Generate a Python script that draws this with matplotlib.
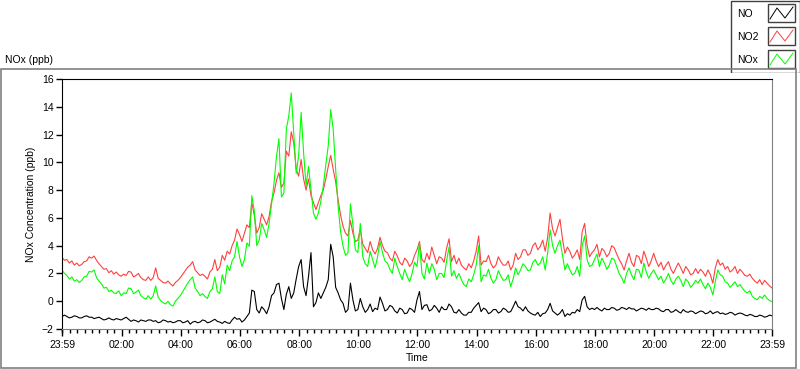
import numpy as np
import matplotlib
matplotlib.use('Agg')
from matplotlib import pyplot as plt
from matplotlib.patches import Rectangle
from matplotlib.lines import Line2D

plt.rcParams['font.family'] = ['Liberation Sans', 'DejaVu Sans']
plt.rcParams['font.size'] = 7.5

# minutes after 23:59, one reading every 5 min (12 per row = 1 hour)
minutes = np.arange(0, 1441, 5)

no = [-1.1, -1.0, -1.1, -1.2, -1.15, -1.05, -1.1, -1.2, -1.2, -1.1, -1.05, -1.15,
      -1.15, -1.25, -1.2, -1.15, -1.25, -1.35, -1.3, -1.2, -1.3, -1.35, -1.25, -1.3,
      -1.35, -1.25, -1.15, -1.3, -1.45, -1.35, -1.4, -1.5, -1.35, -1.4, -1.45, -1.35,
      -1.35, -1.45, -1.4, -1.55, -1.5, -1.35, -1.4, -1.5, -1.45, -1.55, -1.5, -1.4,
      -1.4, -1.55, -1.5, -1.4, -1.65, -1.5, -1.45, -1.55, -1.5, -1.35, -1.4, -1.55,
      -1.5, -1.4, -1.3, -1.45, -1.5, -1.6, -1.45, -1.55, -1.6, -1.35, -1.15, -1.3,
      -1.25, -1.5, -1.35, -1.1, -0.85, 0.8, 0.7, -0.6, -0.85, -0.4, -0.6, -0.9,
      -0.4, 0.4, 0.6, 1.2, 1.3, 0.2, -0.6, 0.5, 1.05, 0.2, 0.6, 1.6,
      2.5, 3.0, 1.05, 0.4, 1.8, 3.5, -0.4, -0.1, 0.6, 0.2, 0.6, 1.0,
      1.55, 4.1, 3.2, 1.0, 0.6, 0.1, -0.15, -0.8, -0.6, 1.3, 0.1, -0.7,
      -0.6, 0.2, -0.4, -0.8, -0.6, -0.2, -0.75, -0.5, -0.6, 0.3, -0.15, -0.7,
      -0.6, -0.3, -0.4, -0.7, -0.85, -0.5, -0.6, -0.9, -0.85, -0.5, -0.6, -0.8,
      0.1, 0.7, -0.6, -0.3, -0.25, -0.7, -0.6, -0.3, -0.5, -0.8, -0.4, -0.6,
      -0.6, -0.2, -0.4, -0.8, -0.85, -0.6, -0.85, -1.0, -1.0, -0.8, -0.8, -0.5,
      -0.3, -0.1, -0.75, -0.5, -0.6, -0.9, -0.8, -0.6, -0.6, -0.85, -0.75, -0.5,
      -0.6, -0.8, -0.75, -0.4, 0.0, -0.4, -0.5, -0.7, -0.4, -0.7, -0.85, -0.95,
      -1.0, -0.8, -1.1, -0.9, -0.85, -0.6, -0.15, -0.7, -0.85, -1.0, -0.85, -0.6,
      -1.1, -0.9, -1.0, -0.8, -0.85, -0.6, -0.75, 0.1, 0.35, -0.4, -0.6, -0.5,
      -0.6, -0.45, -0.6, -0.7, -0.5, -0.6, -0.6, -0.45, -0.5, -0.65, -0.6, -0.45,
      -0.5, -0.6, -0.45, -0.55, -0.55, -0.7, -0.6, -0.5, -0.55, -0.65, -0.5, -0.6,
      -0.6, -0.5, -0.55, -0.7, -0.75, -0.6, -0.6, -0.8, -0.75, -0.6, -0.75, -0.85,
      -0.6, -0.75, -0.8, -0.7, -0.75, -0.9, -0.8, -0.7, -0.75, -0.9, -0.85, -0.7,
      -0.9, -0.8, -0.75, -0.9, -0.85, -0.95, -0.9, -0.8, -0.85, -1.0, -0.9, -0.85,
      -0.9, -1.0, -1.05, -0.95, -1.0, -1.1, -1.1, -1.0, -1.05, -1.15, -1.1, -1.0,
      -1.05]

no2 = [3.15, 2.95, 3.0, 2.75, 2.9, 2.6, 2.75, 2.55, 2.65, 2.85, 2.9, 3.2,
       3.1, 3.25, 2.95, 2.7, 2.5, 2.3, 2.35, 2.05, 2.2, 1.95, 2.1, 1.9,
       1.8, 1.95, 1.85, 2.15, 2.1, 1.75, 1.85, 2.0, 1.7, 1.55, 1.5, 1.75,
       1.5, 1.7, 2.4, 1.65, 1.5, 1.35, 1.3, 1.45, 1.25, 1.1, 1.35, 1.5,
       1.7, 1.95, 2.2, 2.45, 2.6, 2.85, 2.25, 2.05, 1.85, 1.95, 1.8, 1.6,
       2.1, 2.3, 3.0, 2.2, 2.45, 3.3, 2.95, 3.6, 3.4, 4.0, 4.4, 5.2,
       4.8, 4.3, 4.9, 5.5, 5.3, 7.1, 6.2, 4.9, 5.3, 6.3, 5.9, 5.5,
       6.1, 7.2, 7.8, 8.7, 9.25, 8.2, 8.5, 10.8, 10.45, 12.2, 11.4, 9.5,
       9.0, 10.2, 8.8, 8.0, 8.8, 7.6, 7.1, 6.6, 7.1, 7.6, 8.0, 8.8,
       9.7, 10.5, 9.5, 8.6, 7.3, 6.2, 5.4, 4.9, 4.7, 5.8, 4.9, 4.3,
       4.4, 5.2, 4.1, 3.8, 3.5, 4.3, 3.7, 3.4, 3.8, 4.6, 4.0, 3.6,
       3.5, 3.1, 2.9, 3.6, 3.25, 2.8, 2.6, 3.1, 2.9, 2.5, 2.75, 3.3,
       3.7, 4.3, 3.0, 2.8, 3.45, 3.0, 3.9, 3.3, 2.7, 3.2, 3.1, 2.8,
       3.8, 4.5, 2.85, 3.3, 2.7, 3.1, 2.6, 2.4, 2.25, 2.7, 2.4, 2.9,
       3.6, 4.7, 2.6, 2.9, 2.85, 3.3, 2.7, 2.4, 2.6, 3.2, 2.85, 2.6,
       2.6, 2.9, 2.25, 2.6, 3.45, 3.0, 3.2, 3.7, 3.7, 3.3, 3.45, 4.0,
       4.2, 3.7, 3.95, 4.4, 3.6, 4.6, 6.35, 5.2, 4.7, 5.3, 5.9, 4.5,
       3.45, 3.9, 3.6, 3.1, 3.35, 3.7, 3.0, 5.0, 5.6, 4.0, 3.2, 3.5,
       3.7, 4.1, 3.2, 3.8, 3.6, 3.2, 3.45, 4.0, 3.85, 3.4, 3.0, 2.7,
       2.25, 2.9, 3.45, 2.8, 2.5, 3.3, 3.2, 2.7, 3.6, 3.1, 2.5, 2.9,
       3.45, 2.9, 2.5, 2.8, 2.25, 2.6, 2.85, 2.3, 2.0, 2.4, 2.75, 2.4,
       2.0, 2.5, 2.25, 1.9, 2.0, 2.35, 2.0, 2.3, 2.1, 1.8, 2.25, 1.9,
       1.3, 2.4, 3.0, 2.6, 2.75, 2.3, 2.5, 2.1, 2.25, 2.5, 2.0, 2.3,
       2.1, 1.85, 1.8, 1.95, 1.65, 1.45, 1.3, 1.55, 1.2, 1.5, 1.3, 1.1,
       0.95]

nox = [2.25, 2.0, 1.85, 1.6, 1.75, 1.45, 1.55, 1.35, 1.5, 1.75, 1.8, 2.15,
       2.1, 2.25, 1.7, 1.45, 1.25, 0.95, 1.0, 0.7, 0.8, 0.6, 0.55, 0.75,
       0.4, 0.6, 0.55, 0.95, 0.9, 0.55, 0.65, 0.8, 0.4, 0.25, 0.15, 0.4,
       0.15, 0.4, 1.1, 0.3, 0.05, -0.1, -0.2, 0.0, -0.25, -0.35, 0.0, 0.2,
       0.4, 0.7, 1.0, 1.3, 1.55, 1.75, 0.95, 0.7, 0.4, 0.55, 0.35, 0.2,
       0.7, 0.9, 1.75, 0.7, 0.55, 1.9, 1.25, 2.6, 2.2, 2.9, 3.2, 4.3,
       3.2, 2.5, 3.0, 4.2, 3.95, 7.6, 6.5, 4.0, 4.4, 5.6, 5.15, 4.6,
       5.6, 7.0, 8.5, 10.4, 11.7, 7.5, 7.8, 12.4, 13.35, 15.0, 12.1, 9.2,
       10.5, 13.6, 10.7, 8.3, 9.7, 8.0, 6.35, 5.9, 6.35, 7.2, 8.3, 9.8,
       11.2, 13.8, 12.4, 9.5, 6.85, 5.0, 3.95, 3.3, 3.5, 7.0, 5.5, 3.7,
       3.5, 5.6, 3.2, 2.7, 2.5, 3.6, 3.0, 2.4, 3.2, 4.3, 3.5, 2.9,
       2.75, 2.3, 2.0, 3.1, 2.5, 2.0, 1.55, 2.3, 1.8, 1.4, 2.0, 2.8,
       2.5, 4.2, 2.0, 1.6, 2.75, 2.0, 2.7, 2.3, 1.55, 2.0, 2.0, 1.7,
       2.9, 3.9, 1.8, 2.2, 1.65, 2.0, 1.55, 1.2, 1.05, 1.6, 1.4, 1.9,
       2.6, 4.0, 1.4, 1.9, 1.8, 2.3, 1.65, 1.3, 1.55, 2.2, 1.8, 1.5,
       1.55, 1.9, 1.05, 1.6, 2.4, 1.9, 2.25, 2.7, 2.5, 2.2, 2.25, 2.8,
       3.0, 2.6, 2.75, 3.2, 2.25, 3.5, 5.15, 4.0, 3.45, 4.0, 4.4, 3.3,
       2.25, 2.7, 2.25, 1.9, 2.0, 2.5, 1.8, 4.0, 4.7, 3.0, 2.5, 2.6,
       3.0, 3.4, 2.5, 3.1, 2.75, 2.3, 2.6, 3.1, 3.0, 2.5, 2.0, 1.7,
       1.3, 2.0, 2.4, 1.9, 1.55, 2.3, 2.25, 1.7, 2.75, 2.1, 1.65, 2.0,
       2.25, 1.9, 1.55, 1.8, 1.3, 1.6, 2.0, 1.5, 1.2, 1.6, 1.8, 1.5,
       1.05, 1.6, 1.4, 1.0, 1.2, 1.5, 1.3, 1.6, 1.2, 0.9, 1.3, 1.0,
       0.45, 1.4, 2.25, 1.9, 1.8, 1.4, 1.3, 1.0, 1.2, 1.4, 1.05, 1.2,
       0.95, 0.7, 0.6, 0.75, 0.35, 0.2, 0.1, 0.35, 0.2, 0.45, 0.2, 0.05,
       -0.03]

tick_pos = [0, 121, 241, 361, 481, 601, 721, 841, 961, 1081, 1201, 1321, 1440]
tick_labels = ['23:59', '02:00', '04:00', '06:00', '08:00', '10:00', '12:00',
               '14:00', '16:00', '18:00', '20:00', '22:00', '23:59']

W, H = 800, 369
fig = plt.figure(figsize=(W / 100, H / 100), dpi=100)

# outer panel frame
fig.add_artist(Rectangle((1 / W, 1 - 368 / H), 795 / W, 299 / H, transform=fig.transFigure,
                         fill=False, edgecolor='#808080', lw=1.2))

ax = fig.add_axes([62 / W, 1 - 329 / H, 710 / W, 250 / H])
ax.plot(minutes, no, color='black', lw=0.8)
ax.plot(minutes, no2, color='#ff4040', lw=0.8)
ax.plot(minutes, nox, color='#00ff00', lw=0.8)

ax.set_xlim(0, 1440)
ax.set_ylim(-2, 16)
ax.set_yticks(range(-2, 17, 2))
ax.set_xticks(tick_pos)
ax.set_xticklabels(tick_labels)
ax.set_xticks(np.arange(1, 1440, 15), minor=True)
ax.tick_params(axis='x', which='major', length=5, width=1, pad=3)
ax.tick_params(axis='x', which='minor', length=3, width=1)
ax.tick_params(axis='y', length=4, width=1, pad=2)
for s in ['left', 'top']:
    ax.spines[s].set_color('black')
for s in ['right', 'bottom']:
    ax.spines[s].set_color('#808080')
ax.set_ylabel('NOx Concentration (ppb)', labelpad=4)
ax.set_xlabel('Time', labelpad=2)

fig.text(5 / W, 1 - 60 / H, 'NOx (ppb)', ha='left', va='center')

# legend panel drawn in pixel coordinates
lg = fig.add_axes([730 / W, 1 - 73 / H, 70 / W, 73 / H])
lg.set_xlim(0, 70)
lg.set_ylim(73, 0)
lg.axis('off')
lg.add_patch(Rectangle((0.5, 0.5), 69, 72, facecolor='white', edgecolor='#404040', lw=1))
names = ['NO', 'NO2', 'NOx']
colors = ['black', '#ff4040', '#00ff00']
for i, (nm, c) in enumerate(zip(names, colors)):
    y0 = 4 + i * 23
    lg.text(7, y0 + 10, nm, ha='left', va='center')
    lg.add_patch(Rectangle((38, y0), 27, 18, facecolor='white', edgecolor='#404040', lw=1))
    lg.add_line(Line2D([40, 47, 55, 63], [y0 + 15, y0 + 4, y0 + 14, y0 + 3], color=c, lw=0.7))

fig.savefig('out.png', dpi=100)
